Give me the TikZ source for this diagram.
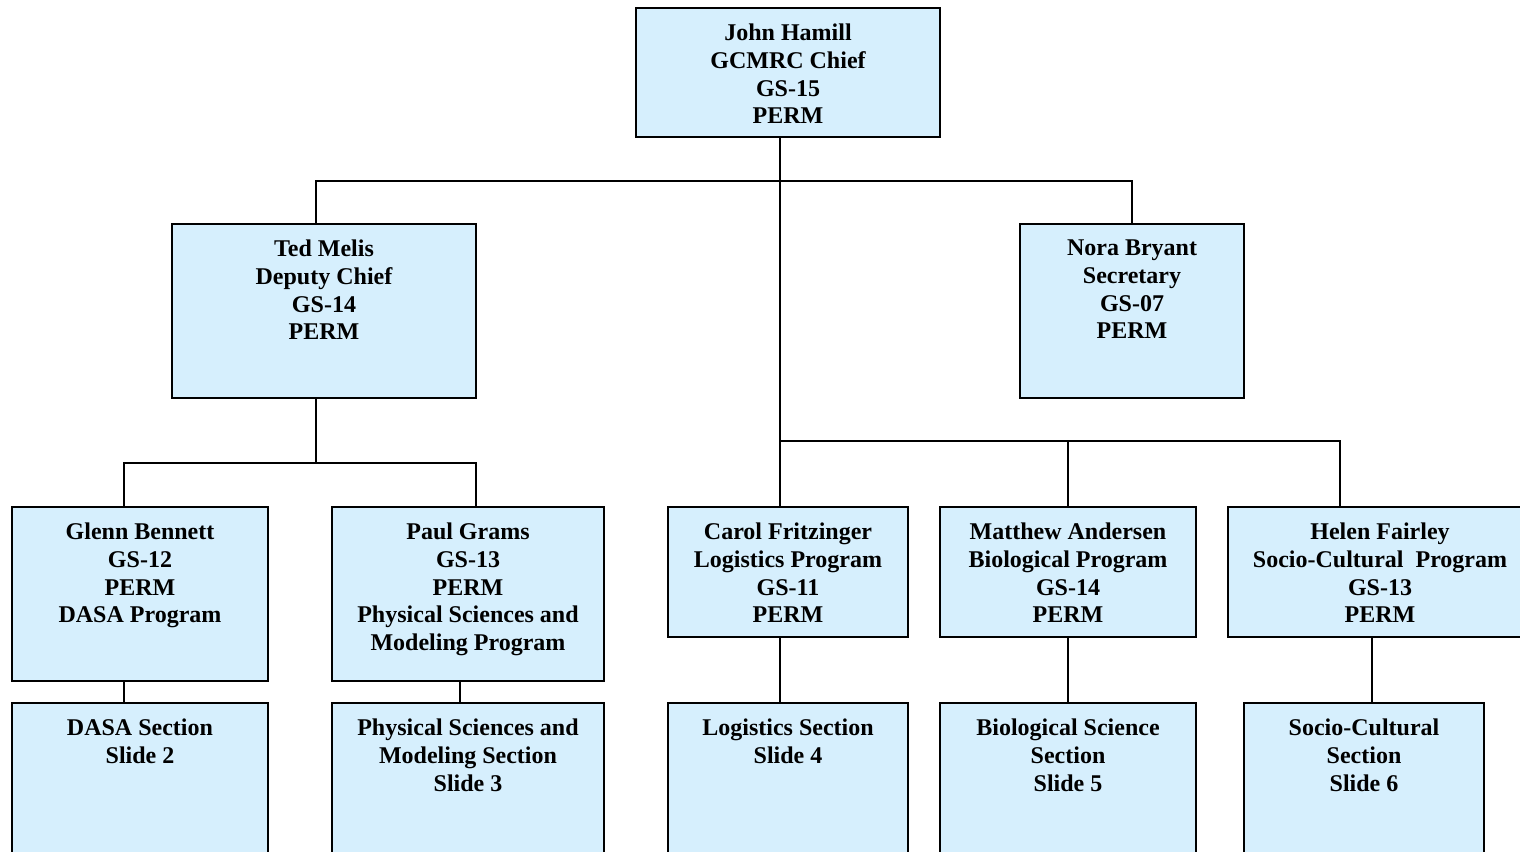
\documentclass[tikz,border=0pt]{standalone}
\usepackage{fontspec}
\setmainfont{Liberation Serif}
\definecolor{boxfill}{RGB}{214,239,253}
\tikzset{
  orgbox/.style={draw=black, line width=1.6pt, fill=boxfill, inner sep=0pt, outer sep=0pt},
  orglbl/.style={inner sep=0pt, align=center, font=\fontsize{24}{27.6}\selectfont\bfseries},
  conn/.style={draw=black, line width=1.6pt}
}
\newcommand{\orgbox}[6]{%
  \node[orgbox, minimum width={(#4-#2)*1pt}, minimum height={(#5-#3)*1pt}, anchor=north west] (#1) at (#2,#3) {};
  \node[orglbl, anchor=north] (#1-t) at ([yshift=-16pt]#1.north) {#6};
}
\begin{document}
\begin{tikzpicture}[x=1pt,y=-1pt]
\useasboundingbox (0,0) rectangle (1520,851);
\clip (0,0) rectangle (1520,851);
\fill[white] (0,0) rectangle (1520,851);

\orgbox{top}{636}{8}{940}{137}{John Hamill\\GCMRC Chief\\GS-15\\PERM}
\orgbox{ted}{172}{224}{476}{398}{Ted Melis\\Deputy Chief\\GS-14\\PERM}
\orgbox{nora}{1020}{224}{1244}{398}{Nora Bryant\\Secretary\\GS-07\\PERM}
\orgbox{glenn}{12}{507}{268}{681}{Glenn Bennett\\GS-12\\PERM\\DASA Program}
\orgbox{paul}{332}{507}{604}{681}{Paul Grams\\GS-13\\PERM\\Physical Sciences and\\Modeling Program}
\orgbox{carol}{668}{507}{908}{637}{Carol Fritzinger\\Logistics Program\\GS-11\\PERM}
\orgbox{matt}{940}{507}{1196}{637}{Matthew Andersen\\Biological Program\\GS-14\\PERM}
\orgbox{helen}{1228}{507}{1532}{637}{Helen Fairley\\Socio-Cultural\ \ Program\\GS-13\\PERM}
\orgbox{dasa}{12}{703}{268}{880}{DASA Section\\Slide 2}
\orgbox{phys}{332}{703}{604}{880}{Physical Sciences and\\Modeling Section\\Slide 3}
\orgbox{logi}{668}{703}{908}{880}{Logistics Section\\Slide 4}
\orgbox{bio}{940}{703}{1196}{880}{Biological Science\\Section\\Slide 5}
\orgbox{socio}{1244}{703}{1484}{880}{Socio-Cultural\\Section\\Slide 6}

\coordinate (j1) at (780,181);
\coordinate (j2) at (780,441);
\coordinate (j3) at (316,463);

% top level
\draw[conn] ([xshift=-8pt]top.south) -- ([xshift=-8pt]carol.north);
\draw[conn] ([xshift=-8pt]ted.north) |- (j1) -| (nora.north);
\draw[conn] (j2) -| (matt.north);
\draw[conn] (j2) -| ([xshift=-40pt]helen.north);
% deputy
\draw[conn] ([xshift=-8pt]ted.south) -- (j3);
\draw[conn] ([xshift=-16pt]glenn.north) |- (j3) -| ([xshift=8pt]paul.north);
% sections
\draw[conn] ([xshift=-16pt]glenn.south) -- ([xshift=-16pt]dasa.north);
\draw[conn] ([xshift=-8pt]paul.south) -- ([xshift=-8pt]phys.north);
\draw[conn] ([xshift=-8pt]carol.south) -- ([xshift=-8pt]logi.north);
\draw[conn] (matt.south) -- (bio.north);
\draw[conn] ([xshift=-8pt]helen.south) -- ([xshift=8pt]socio.north);
\end{tikzpicture}
\end{document}
